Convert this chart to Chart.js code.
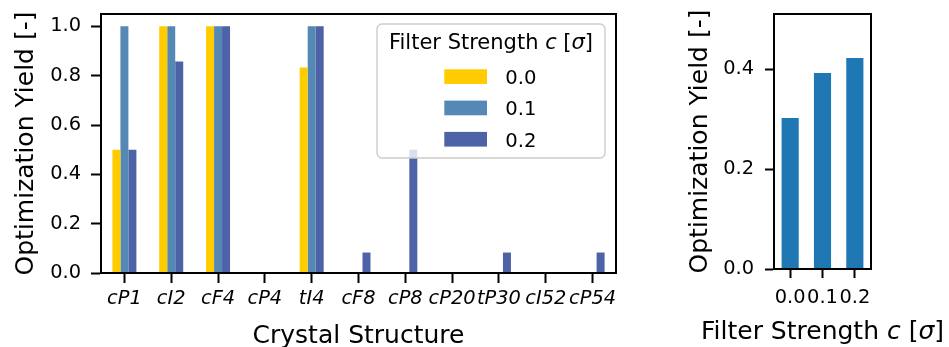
<!DOCTYPE html>
<html><head><meta charset="utf-8">
<script src="https://cdn.jsdelivr.net/npm/chart.js@4/dist/chart.umd.min.js"></script>
<style>
html,body{margin:0;padding:0;background:#fff;width:949px;height:347px;overflow:hidden;}
#c1{position:absolute;left:0;top:0;}
#c2{position:absolute;left:650px;top:0;}
</style></head><body>
<canvas id="c1" width="650" height="347"></canvas>
<canvas id="c2" width="299" height="347"></canvas>
<script>
// ---- data ----
const structures = ['cP1','cI2','cF4','cP4','tI4','cF8','cP8','cP20','tP30','cI52','cP54'];
const filterStrengths = ['0.0','0.1','0.2'];
const yieldC00 = [0.5, 1.0, 1.0, 0, 0.833, 0, 0, 0, 0, 0, 0];
const yieldC01 = [1.0, 1.0, 1.0, 0, 1.0, 0, 0, 0, 0, 0, 0];
const yieldC02 = [0.5, 0.857, 1.0, 0, 1.0, 0.083, 0.5, 0, 0.083, 0, 0.083];
const meanYield = [0.302, 0.392, 0.422];
const yTicksLeft = [0, 0.2, 0.4, 0.6, 0.8, 1.0];
const yTicksRight = [0, 0.2, 0.4];

const FONT = "'DejaVu Sans', sans-serif";
Chart.defaults.font.family = FONT;
Chart.defaults.color = '#000';
Chart.defaults.animation = false;

const frame = {id:'frame', afterDraw(chart){
  const {ctx, chartArea:a} = chart;
  ctx.save(); ctx.strokeStyle='#000'; ctx.lineWidth=2;
  ctx.strokeRect(a.left, a.top, a.right-a.left, a.bottom-a.top);
  ctx.restore();
}};

function mixedText(ctx, parts, x, y, size){
  let total = 0;
  parts.forEach(p=>{ctx.font=(p[1]?'italic ':'')+size+'px '+FONT; total+=ctx.measureText(p[0]).width;});
  let cx = x - total/2;
  ctx.textAlign='left';
  parts.forEach(p=>{ctx.font=(p[1]?'italic ':'')+size+'px '+FONT; ctx.fillText(p[0], cx, y); cx+=ctx.measureText(p[0]).width;});
}

// axis titles drawn without width compression
const axisTitles = {id:'axisTitles', afterDraw(chart, args, o){
  const {ctx, chartArea:a} = chart;
  ctx.save(); ctx.fillStyle='#000'; ctx.textBaseline='alphabetic';
  mixedText(ctx, o.x, (a.left+a.right)/2, o.xBase, 25);
  ctx.translate(o.yBase, (a.top+a.bottom)/2); ctx.rotate(-Math.PI/2);
  mixedText(ctx, o.y, 0, 0, 25);
  ctx.restore();
}};

const boxLegend = {id:'boxLegend', afterDatasetsDraw(chart){
  const {ctx, chartArea:a} = chart;
  const w = 228, h = 134;
  const x = a.right - 11 - w, y = a.top + 10;
  ctx.save();
  ctx.beginPath(); ctx.roundRect(x, y, w, h, 5);
  ctx.fillStyle = 'rgba(255,255,255,0.8)'; ctx.fill();
  ctx.strokeStyle = '#cccccc'; ctx.lineWidth = 1.4; ctx.stroke();
  ctx.fillStyle = '#000'; ctx.textBaseline = 'alphabetic';
  mixedText(ctx, [['Filter Strength ',false],['c',true],[' [',false],['σ',true],[']',false]], x + w/2, y + 25.3, 21);
  ctx.font = '19.6px ' + FONT;
  chart.data.datasets.forEach((ds, i) => {
    ctx.fillStyle = ds.backgroundColor;
    ctx.fillRect(x + 67.3, y + 45.3 + i*31.3, 42.7, 14.7);
    ctx.fillStyle = '#000'; ctx.textAlign = 'left';
    ctx.fillText(ds.label, x + 128.3, y + 60 + i*31.3);
  });
  ctx.restore();
}};

const axisGrid = (tl) => ({display:true, drawOnChartArea:false, offset:false, tickLength:tl, tickWidth:2, tickColor:'#000'});
const axisBorder = {display:true, color:'#000', width:2};
const fixX = (h) => (s) => { s.height = h; s.paddingLeft = 0; s.paddingRight = 0; };
const fixY = (w) => (s) => { s.width = w; s.paddingTop = 0; s.paddingBottom = 0; };

new Chart(document.getElementById('c1'), {
  type:'bar',
  data:{labels:structures, datasets:[
    {label:filterStrengths[0], data:yieldC00, backgroundColor:'#FFCC00'},
    {label:filterStrengths[1], data:yieldC01, backgroundColor:'#5588B5'},
    {label:filterStrengths[2], data:yieldC02, backgroundColor:'#4E62A7'}
  ]},
  options:{
    responsive:false, animation:false,
    layout:{padding:{top:14, right:34, left:0, bottom:0}},
    plugins:{legend:{display:false}, tooltip:{enabled:false},
      axisTitles:{x:[['Crystal Structure',false]], xBase:343.3, y:[['Optimization Yield [-]',false]], yBase:33.3}},
    datasets:{bar:{categoryPercentage:0.5126, barPercentage:1}},
    scales:{
      x:{offset:true, grid:axisGrid(10), border:axisBorder,
        ticks:{autoSkip:false, maxRotation:0, minRotation:0, padding:4.4, font:{size:19.4, style:'italic'}},
        afterFit:fixX(74)},
      y:{min:0, max:1.05, grid:axisGrid(10), border:axisBorder,
        afterBuildTicks(s){ s.ticks = yTicksLeft.map(v=>({value:v})); },
        ticks:{padding:10, font:{size:19.4}, callback:v=>Number(v).toFixed(1)},
        afterFit:fixY(101)}
    }
  },
  plugins:[boxLegend, axisTitles, frame]
});

new Chart(document.getElementById('c2'), {
  type:'bar',
  data:{labels:filterStrengths, datasets:[
    {label:'mean', data:meanYield, backgroundColor:'#1F77B4'}
  ]},
  options:{
    responsive:false, animation:false,
    layout:{padding:{top:14, right:78, left:0, bottom:0}},
    plugins:{legend:{display:false}, tooltip:{enabled:false},
      axisTitles:{x:[['Filter Strength ',false],['c',true],[' [',false],['σ',true],[']',false]], xBase:339, y:[['Optimization Yield [-]',false]], yBase:56.5}},
    datasets:{bar:{categoryPercentage:1, barPercentage:0.53}},
    scales:{
      x:{offset:true, grid:axisGrid(9), border:axisBorder,
        ticks:{autoSkip:false, maxRotation:0, minRotation:0, padding:8.3, font:{size:19.4}},
        afterFit:fixX(78)},
      y:{min:0, max:0.51, grid:axisGrid(9), border:axisBorder,
        afterBuildTicks(s){ s.ticks = yTicksRight.map(v=>({value:v})); },
        ticks:{padding:11, font:{size:19.4}, callback:v=>Number(v).toFixed(1)},
        afterFit:fixY(124)}
    }
  },
  plugins:[axisTitles, frame]
});
</script>
</body></html>
